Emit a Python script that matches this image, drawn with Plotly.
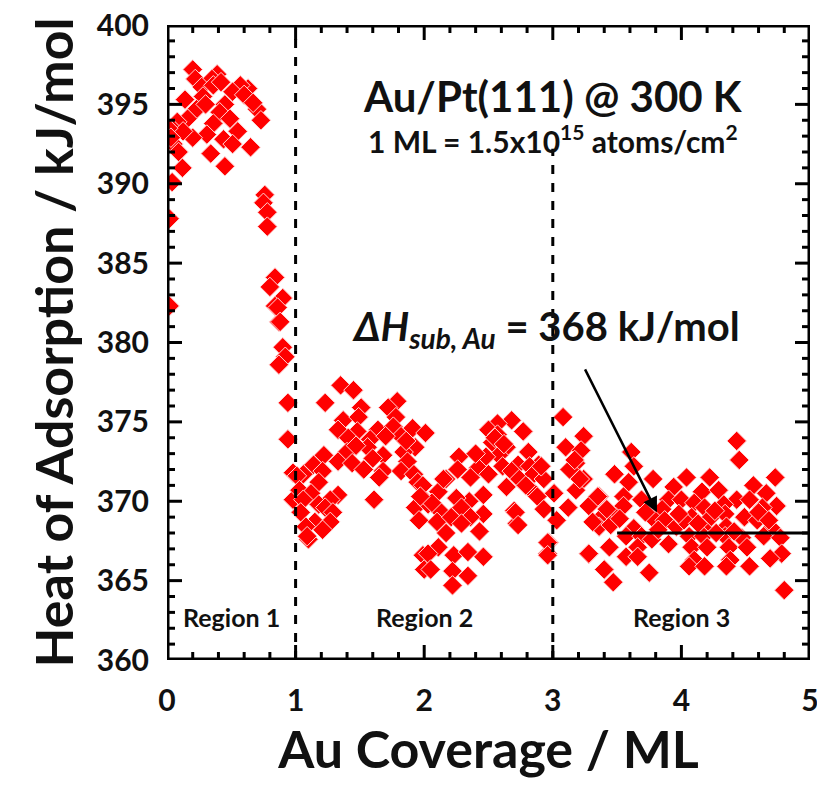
import plotly.graph_objects as go

# Region 1 (0 - 1 ML)
x1 = [0.20, 0.22, 0.39, 0.35, 0.27, 0.36, 0.63, 0.57, 0.51, 0.28, 0.45, 0.23, 0.41, 0.70, 0.73,
      0.49, 0.16, 0.08, 0.36, 0.55, 0.31, 0.20, 0.05, 0.125, 0.44, 0.51, 0.05, 0.65, 0.09, 0.34,
      0.12, 0.45, 0.04, 0.76, 0.75, 0.78, 0.02, 0.78, 0.84, 0.80, 0.90, 0.02, 0.84, 0.87, 0.90,
      0.92, 0.87, 0.86, 0.88, 0.94, 0.94, 0.98, 0.98, 0.01, 0.03, 0.14, 0.30, 0.42, 0.60, 0.67]
y1 = [397.2, 396.6, 396.9, 396.6, 396.1, 396.2, 396.0, 396.2, 395.8, 395.5, 395.0, 394.7, 394.5, 394.7, 394.0,
      394.1, 394.1, 393.9, 393.8, 393.3, 393.1, 392.9, 393.4, 393.3, 392.8, 392.5, 392.5, 392.3, 392.0, 391.9,
      391.0, 391.1, 390.1, 389.3, 388.8, 388.2, 387.8, 387.3, 384.1, 383.5, 382.8, 382.3, 382.3, 381.3, 379.7,
      379.1, 378.6, 382.2, 381.3, 376.2, 373.9, 371.8, 370.1, 393.5, 392.9, 395.3, 395.0, 396.4, 395.6, 395.1]

# Region 2 (1 - 3 ML)
x2 = [1.35, 1.45, 1.23, 1.79, 1.51, 1.72, 1.37, 1.49, 1.78, 1.33, 1.48, 1.64, 1.76, 1.91, 1.41,
      1.58, 1.82, 1.93, 1.40, 1.56, 1.68, 1.84, 1.22, 1.33, 1.44, 1.60, 1.87, 1.14, 1.53, 1.68,
      1.82, 1.21, 1.06, 1.92, 1.65, 1.01, 1.18, 1.95, 1.03, 1.12, 1.33, 1.61, 1.27, 1.06, 1.18,
      1.93, 1.23, 1.04, 1.29, 1.15, 1.96, 1.27, 1.08, 1.21, 1.10, 1.99, 2.00,
      2.68, 2.57, 2.77, 2.01, 2.50, 2.57, 2.53, 2.64, 2.27, 2.81, 2.58, 2.48, 2.89, 2.61, 2.73,
      2.82, 2.42, 2.26, 2.68, 2.85, 2.50, 2.36, 2.17, 2.74, 2.93, 2.64, 2.81, 2.11, 2.46, 2.88,
      1.99, 2.35, 2.25, 2.03, 2.29, 2.70, 2.93, 2.12, 2.46, 2.10, 2.21, 2.36, 2.72, 2.29, 2.43,
      2.17, 2.97, 2.11, 2.03, 2.23, 2.34, 2.46, 2.96, 2.05, 2.22, 2.34, 2.22, 2.91, 2.71, 2.73,
      2.96, 2.96, 1.09, 1.99, 2.15, 2.06, 1.97, 2.40, 2.55, 2.79, 2.62, 1.70, 1.86, 1.47]
y2 = [377.3, 377.0, 376.2, 376.3, 375.9, 375.9, 375.1, 375.3, 375.3, 374.5, 374.4, 374.5, 374.7, 374.6, 374.0,
      373.9, 374.1, 373.4, 373.1, 373.4, 372.9, 373.1, 372.9, 372.5, 372.4, 372.7, 372.5, 372.3, 372.0, 371.9,
      371.9, 371.9, 371.7, 371.7, 371.5, 371.6, 371.2, 371.2, 370.7, 370.5, 370.4, 370.1, 370.1, 370.1, 369.8,
      369.6, 369.6, 369.3, 369.3, 368.7, 368.8, 368.7, 368.4, 368.2, 367.6, 366.6, 365.7,
      375.1, 374.9, 374.4, 374.3, 374.5, 374.2, 373.7, 373.4, 372.8, 373.1, 372.9, 372.8, 372.3, 372.2, 372.3,
      372.2, 372.1, 372.0, 371.9, 371.7, 371.7, 371.5, 371.4, 371.4, 371.4, 370.9, 370.9, 370.6, 370.4, 370.3,
      370.2, 370.0, 370.2, 369.8, 369.6, 369.4, 369.5, 369.4, 369.2, 368.7, 369.0, 369.0, 368.6, 368.6, 368.1,
      368.0, 367.4, 367.1, 366.7, 366.6, 366.8, 366.5, 366.7, 365.7, 365.6, 365.3, 364.7, 372.2, 369.3, 368.5,
      367.4, 366.6, 367.8, 371.0, 371.4, 369.9, 370.3, 373.0, 374.0, 371.0, 373.6, 374.1, 373.8, 373.5]

# Region 3 (3 - 5 ML)
x3 = [3.08, 3.24, 3.10, 3.22, 3.18, 4.43, 4.45, 3.61, 3.13, 3.24, 3.18, 3.48, 3.59, 3.63, 3.78,
      4.04, 4.22, 4.73, 3.94, 4.16, 4.29, 4.56, 4.66, 3.36, 3.55, 3.69, 3.90, 4.00, 4.10, 4.43,
      4.33, 4.53, 4.74, 3.28, 3.55, 3.85, 4.18, 4.63, 3.38, 3.49, 3.77, 3.87, 4.08, 4.23, 4.34,
      4.49, 4.59, 3.36, 3.45, 3.63, 3.96, 4.17, 4.35, 4.70, 3.57, 3.69, 3.77, 3.90, 4.06, 4.17,
      4.34, 4.47, 4.64, 4.77, 3.28, 3.44, 3.57, 3.66, 4.08, 4.20, 4.37, 4.51, 4.78, 3.40, 3.66,
      4.10, 4.38, 4.69, 3.47, 3.75, 4.06, 4.18, 4.35, 4.53, 4.80, 3.01, 3.03, 3.12, 3.17, 3.21,
      3.31, 3.28, 3.35, 3.52, 3.72, 3.82, 4.02, 4.13, 4.26, 4.41, 4.60, 4.68, 3.42, 3.98, 4.27]
y3 = [375.3, 374.1, 373.4, 373.2, 372.4, 373.8, 372.6, 373.1, 372.0, 371.4, 370.7, 371.7, 371.2, 372.2, 371.4,
      371.5, 371.5, 371.5, 370.9, 370.6, 370.7, 371.0, 370.5, 370.3, 370.3, 370.1, 370.1, 370.1, 369.9, 370.1,
      369.8, 370.1, 369.7, 369.7, 369.7, 369.5, 369.6, 369.6, 369.0, 369.0, 369.0, 368.8, 369.0, 369.0, 369.2,
      369.0, 368.8, 368.4, 368.5, 368.3, 368.4, 368.3, 368.4, 368.3, 367.8, 367.8, 367.6, 367.3, 367.8, 367.8,
      367.8, 367.7, 367.8, 367.7, 366.7, 367.1, 366.5, 367.1, 367.1, 367.1, 367.1, 367.1, 366.7, 365.7, 366.5,
      366.3, 366.3, 366.4, 364.9, 365.5, 365.9, 365.9, 365.9, 365.9, 364.4, 370.5, 368.8, 369.6, 372.6, 371.4,
      368.7, 366.7, 370.3, 368.9, 369.3, 368.2, 368.8, 368.6, 369.4, 368.1, 369.3, 368.8, 369.5, 369.2, 368.0]

x_vals = x1 + x2 + x3
y_vals = y1 + y2 + y3

x_range = [0, 5]
y_range = [360, 400]
x_major_step = 1
y_major_step = 5
x_minor_per_major = 5      # minor tick every 0.2 ML
y_minor_per_major = 5      # minor tick every 1 kJ/mol
region_labels = ["Region 1", "Region 2", "Region 3"]
region_label_x = [0.5, 2.0, 4.0]
region_bounds = [1, 3]
dh_sub = 368

FONT = "Lato"
TXT = "#111111"

# plot-area size in pixels (used to express tick lengths in data units)
W_PX = 817 - 159 - 15
H_PX = 789 - 17 - 137
PX_X = (x_range[1] - x_range[0]) / W_PX
PX_Y = (y_range[1] - y_range[0]) / H_PX
MAJOR_LEN, MINOR_LEN = 15, 8

fig = go.Figure()
fig.add_trace(go.Scatter(
    x=x_vals, y=y_vals, mode="markers",
    marker=dict(symbol="diamond", size=15, color="#ff0000",
                line=dict(color="#ffd6d6", width=1)),
    showlegend=False,
))

# Inside tick marks on all four sides, built from the axis ranges and steps
tx, ty = [], []
n_x = int(round((x_range[1] - x_range[0]) / x_major_step * x_minor_per_major))
for i in range(n_x + 1):
    v = x_range[0] + i * x_major_step / x_minor_per_major
    L = (MAJOR_LEN if i % x_minor_per_major == 0 else MINOR_LEN) * PX_Y
    tx += [v, v, None, v, v, None]
    ty += [y_range[0], y_range[0] + L, None, y_range[1], y_range[1] - L, None]
n_y = int(round((y_range[1] - y_range[0]) / y_major_step * y_minor_per_major))
for j in range(n_y + 1):
    v = y_range[0] + j * y_major_step / y_minor_per_major
    L = (MAJOR_LEN if j % y_minor_per_major == 0 else MINOR_LEN) * PX_X
    tx += [x_range[0], x_range[0] + L, None, x_range[1], x_range[1] - L, None]
    ty += [v, v, None, v, v, None]
fig.add_trace(go.Scatter(x=tx, y=ty, mode="lines", line=dict(color="black", width=3),
                         hoverinfo="skip", showlegend=False, cliponaxis=False))
# Frame
fig.add_trace(go.Scatter(x=[x_range[0], x_range[1], x_range[1], x_range[0], x_range[0]],
                         y=[y_range[0], y_range[0], y_range[1], y_range[1], y_range[0]],
                         mode="lines", line=dict(color="black", width=5),
                         hoverinfo="skip", showlegend=False, cliponaxis=False))

# Region boundaries (dashed)
fig.add_shape(type="line", x0=region_bounds[0], x1=region_bounds[0], y0=360, y1=399.2,
              line=dict(color="black", width=3, dash="dash"))
fig.add_shape(type="line", x0=region_bounds[1], x1=region_bounds[1], y0=360, y1=392.2,
              line=dict(color="black", width=3, dash="dash"))
# Sublimation enthalpy line
fig.add_shape(type="line", x0=3.5, x1=x_range[1], y0=dh_sub, y1=dh_sub,
              line=dict(color="black", width=3))

for lbl, lx in zip(region_labels, region_label_x):
    fig.add_annotation(x=lx, y=362.7, text="<b>" + lbl + "</b>", showarrow=False,
                       font=dict(family=FONT, size=25, color=TXT))

fig.add_annotation(x=3.0, y=395.5, text="<b>Au/Pt(111) @ 300 K</b>", showarrow=False,
                   font=dict(family=FONT, size=42, color=TXT))
fig.add_annotation(x=3.0, y=392.8, text="<b>1 ML = 1.5x10<sup>15</sup> atoms/cm<sup>2</sup></b>",
                   showarrow=False, font=dict(family=FONT, size=30, color=TXT))
fig.add_annotation(x=2.95, y=380.9, text="<b><i>ΔH<sub>sub, Au</sub></i> = 368 kJ/mol</b>",
                   showarrow=False, font=dict(family=FONT, size=40, color=TXT))
fig.add_annotation(x=3.81, y=369.3, ax=3.245, ay=378.4, axref="x", ayref="y",
                   text="", showarrow=True, arrowhead=2, arrowsize=1.2, arrowwidth=2.5,
                   arrowcolor="black")

fig.update_layout(
    width=817, height=789,
    margin=dict(l=159, r=15, t=17, b=137),
    plot_bgcolor="white", paper_bgcolor="white",
    xaxis=dict(range=x_range, dtick=x_major_step, showgrid=False, zeroline=False,
               showline=False, ticks="outside", ticklen=14, tickcolor="rgba(0,0,0,0)",
               tickfont=dict(family=FONT, size=30, color=TXT, weight="bold"),
               automargin=False, ticklabeloverflow="allow",
               title=dict(text="<b>Au Coverage / ML</b>", standoff=0,
                          font=dict(family=FONT, size=52, color=TXT))),
    yaxis=dict(range=y_range, dtick=y_major_step, showgrid=False, zeroline=False,
               showline=False, ticks="outside", ticklen=11, tickcolor="rgba(0,0,0,0)",
               tickfont=dict(family=FONT, size=30, color=TXT, weight="bold"),
               automargin=False, ticklabeloverflow="allow",
               title=dict(text="<b>Heat of Adsorption / kJ/mol</b>", standoff=6,
                          font=dict(family=FONT, size=52, color=TXT))),
)

fig.write_html("out.html")
